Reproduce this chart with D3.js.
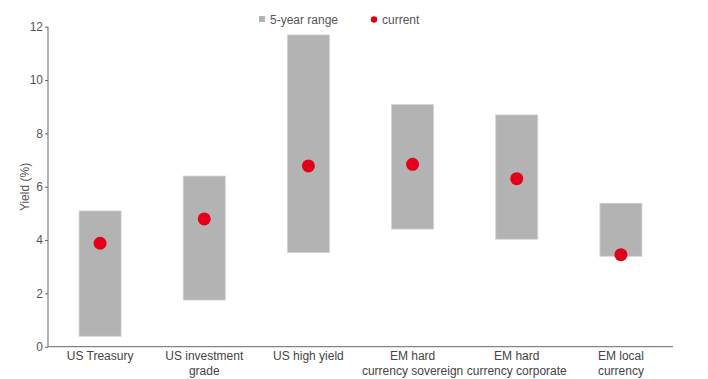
<!DOCTYPE html>
<html><head><meta charset="utf-8">
<script src="https://cdn.jsdelivr.net/npm/d3@7"></script>
<style>
html,body{margin:0;padding:0;background:#fff;}
text{font-family:"Liberation Sans",Arial,sans-serif;}
</style></head>
<body><svg id="c" width="708" height="379"></svg>
<script>
const categories = [["US Treasury"],["US investment","grade"],["US high yield"],["EM hard","currency sovereign"],["EM hard","currency corporate"],["EM local","currency"]];
const rangeLow  = [0.39, 1.75, 3.53, 4.41, 4.03, 3.39];
const rangeHigh = [5.09, 6.40, 11.69, 9.08, 8.69, 5.38];
const current   = [3.88, 4.79, 6.78, 6.84, 6.30, 3.45];
const yTicks = [0,2,4,6,8,10,12];

const svg = d3.select("#c");
const x = d3.scaleBand().domain(d3.range(categories.length)).range([48,673]).paddingInner(0.596).paddingOuter(0.298);
const y = d3.scaleLinear().domain([0,12]).range([346.7,26.7]);

// bars
svg.append("g").selectAll("rect").data(d3.range(categories.length)).join("rect")
  .attr("x", i=>x(i)).attr("width", x.bandwidth())
  .attr("y", i=>y(rangeHigh[i])).attr("height", i=>y(rangeLow[i])-y(rangeHigh[i]))
  .attr("fill","#b3b3b3").attr("stroke","#d4d4d4").attr("stroke-width",0.8);

// dots
svg.append("g").selectAll("circle").data(d3.range(categories.length)).join("circle")
  .attr("cx", i=>x(i)+x.bandwidth()/2).attr("cy", i=>y(current[i])).attr("r",6.5)
  .attr("fill","#e2001a");

// y axis
const ya = svg.append("g").attr("transform","translate(48,0)")
  .call(d3.axisLeft(y).tickValues(yTicks).tickSize(3).tickPadding(2).tickFormat(d3.format("d")));
ya.select(".domain").attr("stroke","#666").attr("d","M0,26.7V346.7");
ya.selectAll(".tick line").attr("stroke","#666");
ya.selectAll(".tick text").attr("fill","#555").style("font-size","12px");

// x axis
const xa = svg.append("g").attr("transform","translate(0,346.7)")
  .call(d3.axisBottom(x).tickSize(0).tickFormat(""));
xa.select(".domain").attr("stroke","#666").attr("d","M48,0H673");
xa.selectAll(".tick").each(function(i){
  const t = d3.select(this).append("text").attr("fill","#444").style("font-size","12px").attr("text-anchor","middle");
  categories[i].forEach((s,k)=>t.append("tspan").attr("x",0).attr("y",13+k*15).text(s));
});

// y label
svg.append("text").attr("transform","translate(29,187) rotate(-90)").attr("text-anchor","middle")
  .attr("fill","#555").style("font-size","12px").text("Yield (%)");

// legend
svg.append("rect").attr("x",259).attr("y",16).attr("width",6).attr("height",6).attr("fill","#b3b3b3");
svg.append("text").attr("x",270).attr("y",23.5).attr("fill","#555").style("font-size","12px").text("5-year range");
svg.append("circle").attr("cx",374).attr("cy",19.5).attr("r",3.2).attr("fill","#e2001a");
svg.append("text").attr("x",382).attr("y",23.5).attr("fill","#555").style("font-size","12px").text("current");
</script></body></html>
